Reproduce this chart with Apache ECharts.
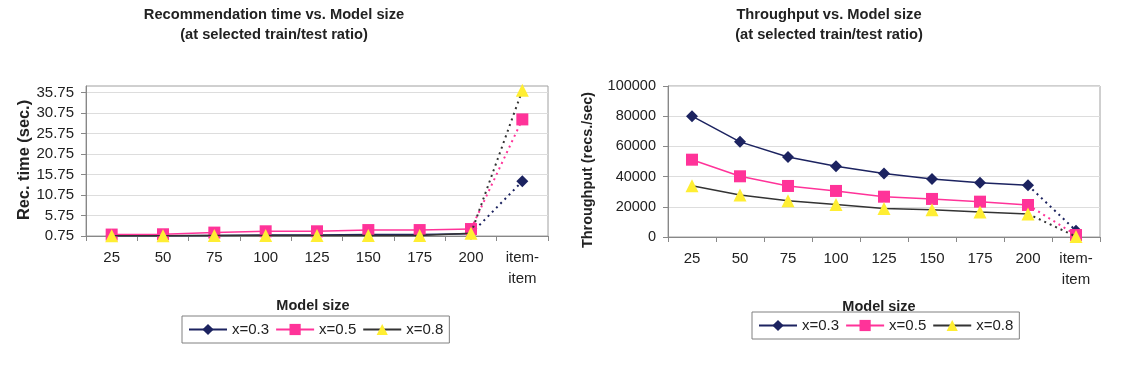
<!DOCTYPE html>
<html><head><meta charset="utf-8">
<script src="https://cdn.jsdelivr.net/npm/echarts@6/dist/echarts.min.js"></script>
<style>html,body{margin:0;padding:0;background:#fff}#c{width:1124px;height:367px}</style>
</head><body><div id="c"></div>
<script>
const categories = ['25','50','75','100','125','150','175','200','item-\nitem'];
const seriesNames = ['x=0.3','x=0.5','x=0.8'];
const recTimeX03 = [0.8,0.8,0.9,1.0,1.0,1.1,1.1,1.3,14.1];
const recTimeX05 = [1.1,1.17,1.58,1.9,1.9,2.2,2.2,2.45,29.2];
const recTimeX08 = [0.8,0.8,0.85,0.9,0.9,0.9,0.9,1.4,36.3];
const thrX03 = [80000,63000,53000,46800,42000,38400,36000,34200,4200];
const thrX05 = [51200,40200,33800,30500,26700,25200,23400,21200,1300];
const thrX08 = [34000,27800,24000,21600,18800,18000,16500,15300,300];
const recTicks = [0.75,5.75,10.75,15.75,20.75,25.75,30.75,35.75];

const FONT = 'Liberation Sans, Arial, sans-serif';
const styles = [
  {symbol:'diamond', size:12, color:'#1c2360', line:'#1c2360'},
  {symbol:'rect', size:12, color:'#ff3399', line:'#ff3399'},
  {symbol:'triangle', size:13, color:'#ffee33', line:'#333333'}
];

function build(values, idx, g) {
  const s = styles[idx];
  const n = values.length;
  const solid = values.map((v,i)=> i < n-1 ? v : '-');
  const dotted = values.map((v,i)=> i === n-1 ? v : (i === n-2 ? {value:v, symbol:'none'} : '-'));
  const base = {
    type:'line', name: seriesNames[idx], xAxisIndex:g, yAxisIndex:g,
    symbol:s.symbol, symbolSize:s.size, showAllSymbol:true,
    itemStyle:{color:s.color, borderWidth:0}, animation:false,
    z: 2 + idx
  };
  return [
    Object.assign({}, base, {data:solid, lineStyle:{color:s.line, width:1.5}}),
    Object.assign({}, base, {data:dotted, lineStyle:{color:s.line, width:2, type:[2,4]}})
  ];
}

function xAxis(g) {
  return {
    type:'category', gridIndex:g, data:categories, boundaryGap:true,
    axisLine:{lineStyle:{color:'#888', width:1}},
    axisTick:{show:true, length:5, lineStyle:{color:'#888'}},
    axisLabel:{fontSize:15, color:'#222', fontFamily:FONT, margin:11, lineHeight:21, interval:0},
    splitLine:{show:false}
  };
}

const chart = echarts.init(document.getElementById('c'));
chart.setOption({
  animation:false,
  grid:[
    {left:86, top:86, width:462, height:150, show:true, borderColor:'#a0a0a0', borderWidth:1},
    {left:668, top:86, width:432, height:151, show:true, borderColor:'#a0a0a0', borderWidth:1}
  ],
  xAxis:[xAxis(0), xAxis(1)],
  yAxis:[
    {type:'value', gridIndex:0, min:0.75, max:37.35,
     axisLine:{show:true, lineStyle:{color:'#888'}},
     axisTick:{show:true, length:5, lineStyle:{color:'#888'}, customValues:recTicks},
     axisLabel:{fontSize:15, color:'#222', fontFamily:FONT, margin:12, customValues:recTicks},
     splitLine:{show:true, lineStyle:{color:'#dddddd'}}},
    {type:'value', gridIndex:1, min:0, max:100000, interval:20000,
     axisLine:{show:true, lineStyle:{color:'#888'}},
     axisTick:{show:true, length:5, lineStyle:{color:'#888'}},
     axisLabel:{fontSize:14.5, color:'#222', fontFamily:FONT, margin:12, formatter:v=>String(v)},
     splitLine:{show:true, lineStyle:{color:'#dddddd'}}}
  ],
  legend:[
    {data:seriesNames, left:182, top:316, padding:[6,6], itemGap:6, itemWidth:38, itemHeight:14,
     borderColor:'#808080', borderWidth:1, textStyle:{fontSize:15, color:'#222', fontFamily:FONT}},
    {data:seriesNames, left:752, top:312, padding:[6,6], itemGap:6, itemWidth:38, itemHeight:14,
     borderColor:'#808080', borderWidth:1, textStyle:{fontSize:15, color:'#222', fontFamily:FONT}}
  ],
  graphic:[
    {type:'text', x:274, y:25, style:{text:'Recommendation time vs. Model size\n(at selected train/test ratio)', textAlign:'center', textVerticalAlign:'middle', font:'bold 14.7px '+FONT, lineHeight:20, fill:'#222'}},
    {type:'text', x:829, y:25, style:{text:'Throughput vs. Model size\n(at selected train/test ratio)', textAlign:'center', textVerticalAlign:'middle', font:'bold 14.7px '+FONT, lineHeight:20, fill:'#222'}},
    {type:'text', x:24, y:160, rotation:Math.PI/2, style:{text:'Rec. time (sec.)', textAlign:'center', textVerticalAlign:'middle', font:'bold 16.4px '+FONT, fill:'#222'}},
    {type:'text', x:588, y:170, rotation:Math.PI/2, style:{text:'Throughput (recs./sec)', textAlign:'center', textVerticalAlign:'middle', font:'bold 14.4px '+FONT, fill:'#222'}},
    {type:'text', x:313, y:306, style:{text:'Model size', textAlign:'center', textVerticalAlign:'middle', font:'bold 14.5px '+FONT, fill:'#222'}},
    {type:'text', x:879, y:307, z:-1, style:{text:'Model size', textAlign:'center', textVerticalAlign:'middle', font:'bold 14.5px '+FONT, fill:'#222'}}
  ],
  series:[].concat(
    build(recTimeX03,0,0), build(recTimeX05,1,0), build(recTimeX08,2,0),
    build(thrX03,0,1), build(thrX05,1,1), build(thrX08,2,1)
  )
});
</script></body></html>
